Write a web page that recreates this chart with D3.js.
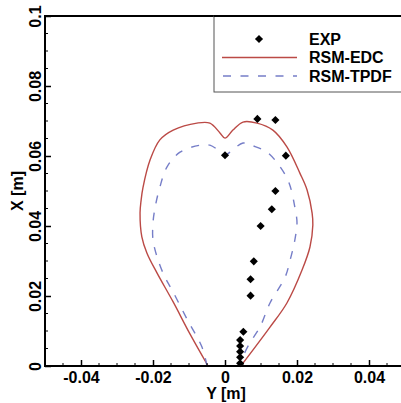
<!DOCTYPE html>
<html><head><meta charset="utf-8">
<script src="https://cdn.jsdelivr.net/npm/d3@7"></script>
<style>
html,body{margin:0;padding:0;background:#fff;overflow:hidden}
svg{display:block}
text{font-family:"Liberation Sans",Arial,sans-serif;font-weight:bold;fill:#000}
</style></head>
<body>
<svg id="c" width="401" height="403"></svg>
<script>
// EXP data: [Y, X]
const expY = [0.009, 0.014, 0.0169, 0.0, 0.014, 0.013, 0.0099, 0.008, 0.0071, 0.0071, 0.0051, 0.0042, 0.0042, 0.0042, 0.0042, 0.0042];
const expX = [0.0706, 0.0703, 0.0601, 0.0602, 0.050, 0.0448, 0.040, 0.0299, 0.0248, 0.0201, 0.0098, 0.0074, 0.0057, 0.0041, 0.0025, 0.0008];

// RSM-EDC contour
const edcY = [-0.0047, -0.0097, -0.0144, -0.0189, -0.0217, -0.0231, -0.0236, -0.0233, -0.0228, -0.0208, -0.0181, -0.0144, -0.0078, -0.0042, -0.0014, 0.0, 0.0022, 0.005, 0.0089, 0.0133, 0.0172, 0.0208, 0.0228, 0.0242, 0.0244, 0.0236, 0.0214, 0.0172, 0.0125, 0.0044];
const edcX = [0.0, 0.0091, 0.0183, 0.0266, 0.0323, 0.0369, 0.0437, 0.0474, 0.0509, 0.0589, 0.0646, 0.0674, 0.0694, 0.0694, 0.0666, 0.0651, 0.0674, 0.0697, 0.0694, 0.0674, 0.0626, 0.0551, 0.0503, 0.0437, 0.0403, 0.034, 0.0274, 0.018, 0.0111, 0.0];

// RSM-TPDF contour
const tpdfY = [-0.0050, -0.0064, -0.0106, -0.0147, -0.0167, -0.0186, -0.0200, -0.0200, -0.0194, -0.0181, -0.0161, -0.0125, -0.0069, -0.0042, -0.0019, 0.0, 0.0014, 0.005, 0.0078, 0.0117, 0.0153, 0.0178, 0.0194, 0.0200, 0.0194, 0.0181, 0.0167, 0.0125, 0.0097, 0.0069, 0.005, 0.0044];
const tpdfX = [0.0, 0.0054, 0.0135, 0.0217, 0.0254, 0.0303, 0.036, 0.0409, 0.0454, 0.0511, 0.0569, 0.0611, 0.0631, 0.0631, 0.0617, 0.0603, 0.0611, 0.0637, 0.0629, 0.0611, 0.0569, 0.0523, 0.0454, 0.0409, 0.036, 0.0303, 0.0254, 0.018, 0.0111, 0.0066, 0.0026, 0.0];

const xMajor = [-0.04, -0.02, 0, 0.02, 0.04];
const xMajorLabels = ["-0.04", "-0.02", "0", "0.02", "0.04"];
const yMajor = [0, 0.02, 0.04, 0.06, 0.08, 0.1];
const yMajorLabels = ["0", "0.02", "0.04", "0.06", "0.08", "0.1"];
const seriesNames = ["EXP", "RSM-EDC", "RSM-TPDF"];

const svg = d3.select("#c");
const L = 45, R = 405, T = 16, B = 366;
const x = d3.scaleLinear().domain([-0.05, 0.05]).range([L, R]);
const y = d3.scaleLinear().domain([0, 0.1]).range([B, T]);
const red = "#bb4a46", blue = "#767ec8";

const plot = svg.append("g");

// minor ticks
const xMinor = d3.range(-0.05, 0.0501, 0.005).filter(v => !xMajor.some(m => Math.abs(m - v) < 1e-9));
const yMinor = d3.range(0, 0.1001, 0.005).filter(v => !yMajor.some(m => Math.abs(m - v) < 1e-9));

const xAxis = d3.axisBottom(x).tickValues(xMajor).tickFormat((d, i) => xMajorLabels[i]).tickSizeInner(-6).tickSizeOuter(0).tickPadding(5);
const gx = svg.append("g").attr("transform", `translate(0,${B})`).call(xAxis);
gx.select(".domain").remove();
gx.selectAll("line").attr("stroke", "#000").attr("stroke-width", 1.5);
gx.selectAll("text").style("font-size", "16px").attr("dy", "0.72em");
svg.append("g").selectAll("line").data(xMinor).join("line")
  .attr("x1", d => x(d)).attr("x2", d => x(d)).attr("y1", B).attr("y2", B - 3)
  .attr("stroke", "#000").attr("stroke-width", 1);

const yAxis = d3.axisLeft(y).tickValues(yMajor).tickFormat((d, i) => yMajorLabels[i]).tickSizeInner(-6).tickSizeOuter(0);
const gy = svg.append("g").attr("transform", `translate(${L},0)`).call(yAxis);
gy.select(".domain").remove();
gy.selectAll("line").attr("stroke", "#000").attr("stroke-width", 1.5);
gy.selectAll("text").remove();
gy.selectAll(".tick").append("text")
  .attr("transform", "translate(-4,0) rotate(-90)")
  .attr("text-anchor", "middle").attr("dy", "0")
  .style("font-size", "16px")
  .text((d, i) => yMajorLabels[i]);
svg.append("g").selectAll("line").data(yMinor).join("line")
  .attr("x1", L).attr("x2", L + 3).attr("y1", d => y(d)).attr("y2", d => y(d))
  .attr("stroke", "#000").attr("stroke-width", 1);

// curves
const toPts = (ys, xs) => ys.map((v, i) => [v, xs[i]]);
const line = d3.line().x(d => x(d[0])).y(d => y(d[1])).curve(d3.curveCatmullRom.alpha(0.5));
plot.append("path").attr("d", line(toPts(edcY, edcX))).attr("fill", "none").attr("stroke", red).attr("stroke-width", 1.4);
plot.append("path").attr("d", line(toPts(tpdfY, tpdfX))).attr("fill", "none").attr("stroke", blue).attr("stroke-width", 1.4).attr("stroke-dasharray", "8,9.5");

// EXP diamonds
const diamond = d3.symbol().type(d3.symbolDiamond2).size(42);
plot.selectAll(".exp").data(toPts(expY, expX)).join("path")
  .attr("transform", d => `translate(${x(d[0])},${y(d[1])})`)
  .attr("d", diamond).attr("fill", "#000");

// frame
svg.append("rect").attr("x", L).attr("y", T).attr("width", R - L).attr("height", B - T)
  .attr("fill", "none").attr("stroke", "#000").attr("stroke-width", 2);

// legend
const lg = svg.append("g");
lg.append("rect").attr("x", 214).attr("y", T).attr("width", 200).attr("height", 76)
  .attr("fill", "#fff").attr("stroke", "#555").attr("stroke-width", 1);
lg.append("line").attr("x1", 214).attr("x2", 420).attr("y1", T).attr("y2", T).attr("stroke", "#000").attr("stroke-width", 2);
const rowY = [39, 57.5, 76];
lg.append("path").attr("transform", `translate(259,${rowY[0]})`).attr("d", diamond).attr("fill", "#000");
lg.append("line").attr("x1", 222).attr("x2", 297).attr("y1", rowY[1]).attr("y2", rowY[1]).attr("stroke", red).attr("stroke-width", 1.4);
lg.append("line").attr("x1", 223).attr("x2", 297).attr("y1", rowY[2]).attr("y2", rowY[2]).attr("stroke", blue).attr("stroke-width", 1.4).attr("stroke-dasharray", "8,9.5");
lg.selectAll(".lt").data(seriesNames).join("text")
  .attr("x", 309).attr("y", (d, i) => rowY[i]).attr("dy", "0.36em")
  .style("font-size", "16px").text(d => d);

// axis titles
svg.append("text").attr("x", 226).attr("y", 399).attr("text-anchor", "middle").style("font-size", "16px").text("Y [m]");
svg.append("text").attr("transform", "translate(23,191) rotate(-90)").attr("text-anchor", "middle").style("font-size", "16px").text("X [m]");
</script>
</body></html>
